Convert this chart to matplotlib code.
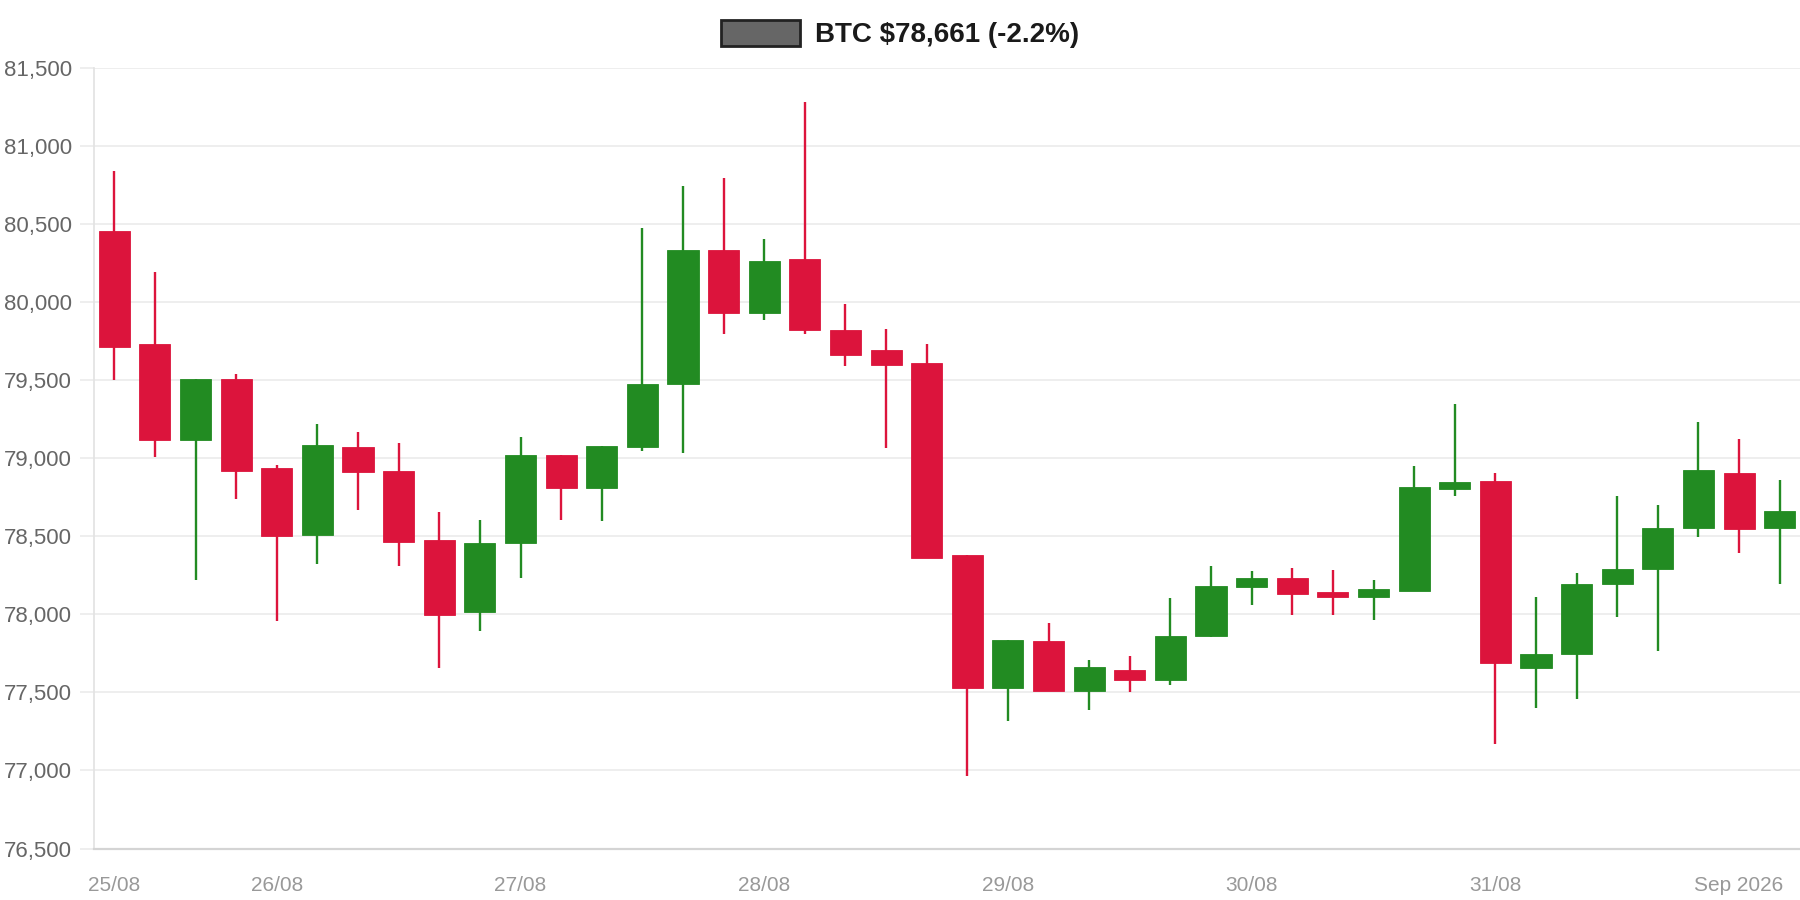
import matplotlib
matplotlib.use("Agg")
import matplotlib.pyplot as plt
import matplotlib.dates as mdates
from matplotlib.patches import Patch
from matplotlib.ticker import FuncFormatter, MultipleLocator
import pandas as pd

plt.rcParams['font.family'] = ['Liberation Sans', 'DejaVu Sans']

# 4h candles, 25/08 08:00 -> 01/09 04:00
times = pd.date_range('2026-08-25 08:00', periods=42, freq='4h')

opens = [80456, 79728, 79118, 79507, 78934, 78507, 79074, 78919, 78478, 78015,
         78456, 79022, 78811, 79070, 79472, 80332, 79930, 80273, 79822, 79690,
         79607, 78377, 77525, 77831, 77507, 77640, 77581, 77860, 78173, 78231,
         78145, 78111, 78147, 78803, 78852, 77654, 77748, 78191, 78287, 78551,
         78904, 78551]
highs = [80838, 80191, 79507, 79537, 78956, 79221, 79169, 79096, 78654, 78603,
         79132, 79022, 79078, 80472, 80745, 80791, 80402, 81279, 79990, 79825,
         79733, 78377, 77835, 77941, 77706, 77735, 78103, 78312, 78276, 78297,
         78286, 78222, 78947, 79346, 78902, 78111, 78265, 78757, 78698, 79228,
         79125, 78860]
lows = [79500, 79007, 78221, 78735, 77956, 78324, 78669, 78309, 77654, 77890,
        78235, 78603, 78598, 79046, 79032, 79795, 79885, 79793, 79588, 79065,
        78363, 76963, 77316, 77507, 77390, 77500, 77544, 77852, 78062, 77998,
        77998, 77963, 78147, 78758, 77169, 77397, 77456, 77985, 77765, 78493,
        78390, 78191]
closes = [79713, 79118, 79507, 78919, 78500, 79081, 78912, 78463, 77993, 78456,
          79022, 78809, 79078, 79475, 80332, 79930, 80265, 79822, 79661, 79596,
          78363, 77530, 77835, 77507, 77662, 77581, 77860, 78181, 78235, 78132,
          78111, 78160, 78816, 78850, 77686, 77748, 78191, 78287, 78551, 78926,
          78544, 78661]

tick_times = pd.to_datetime(['2026-08-25 08:00', '2026-08-26 00:00', '2026-08-27 00:00',
                             '2026-08-28 00:00', '2026-08-29 00:00', '2026-08-30 00:00',
                             '2026-08-31 00:00', '2026-09-01 00:00'])
tick_labels = ['25/08', '26/08', '27/08', '28/08', '29/08', '30/08', '31/08', 'Sep 2026']

UP = '#228b22'
DOWN = '#dc143c'

fig = plt.figure(figsize=(18, 9), dpi=100)
ax = fig.add_axes([94 / 1800, 1 - 848.5 / 900, 1 - 94 / 1800, (848.5 - 67.7) / 900])

x = mdates.date2num(times)
colors = [UP if c >= o else DOWN for o, c in zip(opens, closes)]
bottoms = [min(o, c) for o, c in zip(opens, closes)]
heights = [max(abs(c - o), 8) for o, c in zip(opens, closes)]

ax.vlines(x, lows, highs, colors=colors, linewidth=1.7, zorder=2)
ax.bar(x, heights, bottom=bottoms, width=3.06 / 24, color=colors,
       edgecolor=colors, linewidth=0.6, zorder=3)

step = 4 / 24
ax.set_xlim(x[0] - step / 2, x[-1] + step / 2)
ax.set_ylim(76500, 81500)
ax.yaxis.set_major_locator(MultipleLocator(500))
ax.yaxis.set_major_formatter(FuncFormatter(lambda v, p: f'{v:,.0f}'))
ax.set_xticks(mdates.date2num(tick_times))
ax.set_xticklabels(tick_labels)

ax.grid(axis='y', color='#ebebeb', linewidth=1.2, zorder=0)
ax.set_axisbelow(True)
for s in ['top', 'right']:
    ax.spines[s].set_visible(False)
ax.spines['left'].set_color('#e2e2e2')
ax.spines['left'].set_linewidth(1.2)
ax.spines['bottom'].set_color('#d4d4d4')
ax.spines['bottom'].set_linewidth(1.6)

ax.tick_params(axis='y', length=10, width=1.2, color='#ebebeb', pad=6,
               labelsize=16, labelcolor='#666666')
ax.tick_params(axis='x', length=0, pad=20, labelsize=15, labelcolor='#999999')

handle = Patch(facecolor='#666666', edgecolor='#222222', linewidth=2)
fig.legend([handle], ['BTC \\$78,661 (-2.2%)'], loc='center',
           bbox_to_anchor=(0.5, 1 - 34 / 900), frameon=False,
           prop={'weight': 'bold', 'size': 20}, labelcolor='#1a1a1a',
           handlelength=2.85, handleheight=1.05, handletextpad=0.55, borderpad=0)

fig.savefig('out.png', dpi=100, facecolor='white')
